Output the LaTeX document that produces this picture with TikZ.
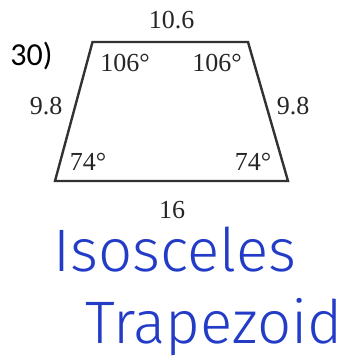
\documentclass[tikz,border=0pt]{standalone}
\usepackage{fontspec}
\setmainfont{Liberation Serif}
\newfontfamily\probfont{Carlito}
\newfontfamily\handfont{Fira Sans Light}
\definecolor{inkblue}{RGB}{35,60,200}
\definecolor{scan}{RGB}{50,50,50}
\tikzset{
  side/.style={draw=scan, line width=2.4pt, line join=miter},
  lbl/.style={font=\fontsize{26}{28}\selectfont, text=black!85, inner sep=0pt},
  hand/.style={font=\handfont\fontsize{60}{64}\selectfont, text=inkblue, inner sep=0pt, anchor=base}
}
\begin{document}
\begin{tikzpicture}[x=1pt, y=-1pt]
\useasboundingbox (0,0) rectangle (343,359);
% corners of the trapezoid
\coordinate (tl) at (92.5,42);
\coordinate (tr) at (248,42);
\coordinate (br) at (288,181);
\coordinate (bl) at (55,181);
\draw[side] (tl) -- (tr) -- (br) -- (bl) -- cycle;
% problem number
\node[font=\probfont\fontsize{32}{34}\selectfont, inner sep=0pt] (num) at (31.5,56) {30)};
% side lengths
\node[lbl] (top) at (171.5,20) {10.6};
\node[lbl] (left) at (46,106) {9.8};
\node[lbl] (right) at (293,106) {9.8};
\node[lbl] (bottom) at (172,210) {16};
% angles
\node[lbl] (atl) at (125,63) {106°};
\node[lbl] (atr) at (217,63) {106°};
\node[lbl] (abl) at (88,162) {74°};
\node[lbl] (abr) at (253,162) {74°};
% answer
\node[hand] (kind) at (175,271) {Isosceles};
\node[hand] (shape) at (214,343) {Trapezoid};
\end{tikzpicture}
\end{document}
